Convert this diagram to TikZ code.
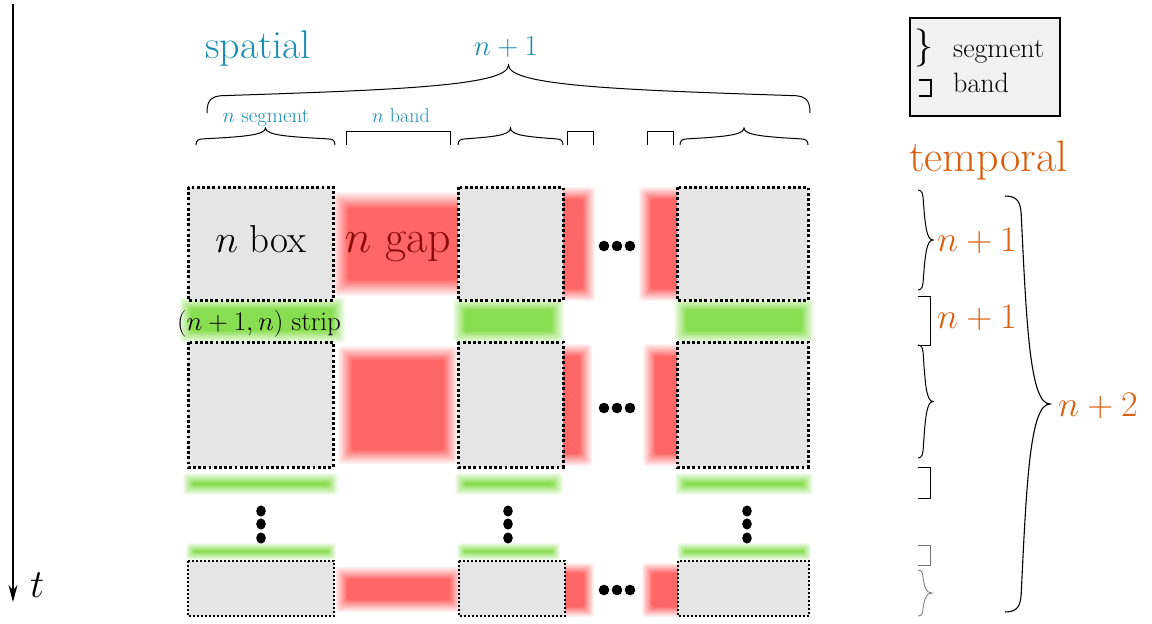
\RequirePackage{fix-cm}
\documentclass[tikz,border=0pt]{standalone}
\usetikzlibrary{arrows.meta}

\definecolor{spatialc}{RGB}{28,143,176}
\definecolor{temporalc}{RGB}{217,95,14}
\definecolor{gapred}{RGB}{255,102,102}
\definecolor{stripgreen}{RGB}{136,222,80}
\definecolor{boxgray}{RGB}{229,229,229}
\definecolor{gaptext}{RGB}{140,10,10}

\newcommand\fsz[1]{\fontsize{#1}{#1}\selectfont}

% soft-edged rectangle: colour, x1, y1, x2, y2, blur half-width
% (12 nested layers whose opacities add up to a linear ramp)
\newcommand\fuzzy[6]{%
  \foreach \k in {1,...,12}{%
    \pgfmathsetmacro\fo{#6*(1-2*(\k-1)/11)}%
    \pgfmathsetmacro\fa{1/(13-\k)}%
    \fill[#1, fill opacity=\fa, rounded corners=3pt]
      ({#2-\fo},{#3-\fo}) rectangle ({#4+\fo},{#5+\fo});
  }}

% horizontal curly brace, tip up: [opts] x1, x2, base y, height, hook length
\newcommand\spanbrace[6][]{%
  \pgfmathsetmacro\bxa{#2}\pgfmathsetmacro\bxb{#3}%
  \pgfmathsetmacro\bxm{(#2+#3)/2}%
  \pgfmathsetmacro\byb{#4}\pgfmathsetmacro\byt{#4-(#5)}%
  \pgfmathsetmacro\byh{#4-0.36*(#5)}% end of the hook
  \pgfmathsetmacro\byc{#4-0.3*(#5)}\pgfmathsetmacro\byk{#4-0.34*(#5)}%
  \pgfmathsetmacro\bym{#4-0.48*(#5)}\pgfmathsetmacro\byd{#4-0.56*(#5)}%
  \pgfmathsetmacro\bpa{#2+(#6)}\pgfmathsetmacro\bpb{#3-(#6)}%
  \pgfmathsetmacro\bqa{#2+0.4*(#6)}\pgfmathsetmacro\bqb{#3-0.4*(#6)}%
  \pgfmathsetmacro\bra{\bpa+0.6*(\bxm-\bpa)}\pgfmathsetmacro\brb{\bpb-0.6*(\bpb-\bxm)}%
  \draw[brc,#1] (\bxa,\byb) .. controls (\bxa,\byc) and (\bqa,\byk) .. (\bpa,\byh)
    .. controls (\bra,\bym) and (\bxm,\byd) .. (\bxm,\byt)
    .. controls (\bxm,\byd) and (\brb,\bym) .. (\bpb,\byh)
    .. controls (\bqb,\byk) and (\bxb,\byc) .. (\bxb,\byb);}

% vertical curly brace, tip right: [opts] x, y1, y2, height, hook length
\newcommand\timebrace[6][]{%
  \pgfmathsetmacro\cxb{#2}\pgfmathsetmacro\cxt{#2+(#5)}%
  \pgfmathsetmacro\cxh{#2+0.36*(#5)}%
  \pgfmathsetmacro\cxc{#2+0.3*(#5)}\pgfmathsetmacro\cxk{#2+0.34*(#5)}%
  \pgfmathsetmacro\cxm{#2+0.48*(#5)}\pgfmathsetmacro\cxd{#2+0.56*(#5)}%
  \pgfmathsetmacro\cya{#3}\pgfmathsetmacro\cyb{#4}\pgfmathsetmacro\cym{(#3+#4)/2}%
  \pgfmathsetmacro\cpa{#3+(#6)}\pgfmathsetmacro\cpb{#4-(#6)}%
  \pgfmathsetmacro\cqa{#3+0.4*(#6)}\pgfmathsetmacro\cqb{#4-0.4*(#6)}%
  \pgfmathsetmacro\cra{\cpa+0.6*(\cym-\cpa)}\pgfmathsetmacro\crb{\cpb-0.6*(\cpb-\cym)}%
  \draw[brc,#1] (\cxb,\cya) .. controls (\cxc,\cya) and (\cxk,\cqa) .. (\cxh,\cpa)
    .. controls (\cxm,\cra) and (\cxd,\cym) .. (\cxt,\cym)
    .. controls (\cxd,\cym) and (\cxm,\crb) .. (\cxh,\cpb)
    .. controls (\cxk,\cqb) and (\cxc,\cyb) .. (\cxb,\cyb);}

\begin{document}
\begin{tikzpicture}[x=1pt,y=-1pt,
  cell/.style={fill=boxgray, draw=black, line width=3pt, dash pattern=on 2.8pt off 2.4pt},
  thincell/.style={fill=boxgray, draw=black, line width=2pt, dash pattern=on 2pt off 2pt},
  brc/.style={draw=black, line width=1pt},
  faint/.style={draw=black!55, line width=0.8pt},
  bracketline/.style={draw=black, line width=1pt},
  spat/.style={text=spatialc},
  temp/.style={text=temporalc},
  bdot/.style={fill=black}]
\useasboundingbox (0,0) rectangle (1152,624);

% ---- time axis
\coordinate (t0) at (13,4);
\coordinate (t1) at (13,602);
\draw[line width=1.2pt, -{Stealth[length=17pt,width=9pt]}] (t0) -- (t1);
\node[font=\fsz{40}, anchor=base west, inner sep=0pt] (tlab) at (30,597) {$t$};

% ---- gaps (red) and strips (green)
\fuzzy{gapred}{340}{200}{470}{288}{8}
\fuzzy{gapred}{545}{193}{589}{295}{6}
\fuzzy{gapred}{645}{193}{690}{295}{6}
\fuzzy{gapred}{345}{353}{451}{457}{7}
\fuzzy{gapred}{545}{350}{586}{460}{6}
\fuzzy{gapred}{649}{350}{690}{460}{6}
\fuzzy{gapred}{341}{573}{456}{606}{6}
\fuzzy{gapred}{545}{568}{589}{612}{5}
\fuzzy{gapred}{647}{568}{690}{612}{5}

\fuzzy{stripgreen}{185}{303}{339}{337}{6}
\fuzzy{stripgreen}{459}{304}{558}{337}{6}
\fuzzy{stripgreen}{680}{304}{808}{337}{6}
\fuzzy{stripgreen}{188}{478}{333}{490}{5}
\fuzzy{stripgreen}{460}{478}{558}{490}{5}
\fuzzy{stripgreen}{680}{478}{808}{490}{5}
\fuzzy{stripgreen}{190}{547}{332}{556}{4}
\fuzzy{stripgreen}{461}{547}{556}{556}{4}
\fuzzy{stripgreen}{681}{547}{807}{556}{4}

% ---- boxes
\foreach \ya/\yb in {187/300, 342/467}{
  \draw[cell] (188,\ya) rectangle (333,\yb);
  \draw[cell] (458,\ya) rectangle (563,\yb);
  \draw[cell] (677,\ya) rectangle (808,\yb);
}
\draw[thincell] (188,561) rectangle (334,616);
\draw[thincell] (459,561) rectangle (565,616);
\draw[thincell] (678,561) rectangle (809,616);

% ---- ellipsis dots
\foreach \yy in {246,408,590}{
  \foreach \xx in {604,617,630}{ \fill[bdot] (\xx,\yy) circle (5.3pt); }
}
\foreach \xx in {261,508,747}{
  \foreach \yy in {511,524,538}{ \fill[bdot] (\xx,\yy) ellipse (4.8pt and 5.6pt); }
}

% ---- cell labels
\node[font=\fsz{39}, anchor=base, inner sep=0pt] (boxlab) at (261,252) {$n$ box};
\node[font=\fsz{46}, anchor=base, inner sep=0pt, text=gaptext] (gaplab) at (398,252) {$n$ gap};
\node[font=\fsz{27}, anchor=base, inner sep=0pt] (striplab) at (259,330) {$(n+1,n)$ strip};

% ---- spatial annotations
\node[font=\fsz{40}, anchor=base west, inner sep=0pt, spat] (spatial) at (205,58) {spatial};
\spanbrace{207}{810}{113}{48}{14}
\node[font=\fsz{29}, anchor=base, inner sep=0pt, spat] (sptotal) at (506,55) {$n+1$};
\spanbrace{196}{335}{145}{17}{7}
\spanbrace{458}{563}{145}{17}{7}
\spanbrace{680}{808}{145}{17}{7}
\draw[bracketline] (346,145) -- (346,131) -- (450,131) -- (450,145);
\draw[bracketline] (567,145) -- (567,131) -- (593,131) -- (593,145);
\draw[bracketline] (647,145) -- (647,131) -- (673,131) -- (673,145);
\node[font=\fsz{21}, anchor=base, inner sep=0pt, spat] (seglab) at (266,122) {$n$ segment};
\node[font=\fsz{20}, anchor=base, inner sep=0pt, spat] (bandlab) at (401,122) {$n$ band};

% ---- legend
\node[draw=black, fill=black!5, line width=1.8pt, minimum width=150pt, minimum height=98pt,
      inner sep=0pt] (legend) at (985,67) {};
\node[font=\fsz{38}, inner sep=0pt] (lgsym) at (924,48) {$\}$};
\node[font=\fsz{28}, anchor=base west, inner sep=0pt] (lgseg) at (953,57) {segment};
\node[font=\fsz{28}, anchor=base west, inner sep=0pt] (lgband) at (953,92) {band};
\draw[line width=1.8pt] (919,80) -- (931,80) -- (931,96) -- (919,96);

% ---- temporal annotations
\node[font=\fsz{44}, anchor=base west, inner sep=0pt, temp] (temporal) at (909,171) {temporal};
\timebrace{918}{190}{290}{15}{12}
\node[font=\fsz{36}, anchor=base west, inner sep=0pt, temp] (tseg) at (937,251) {$n+1$};
\draw[bracketline] (918,296) -- (930,296) -- (930,345) -- (918,345);
\node[font=\fsz{36}, anchor=base west, inner sep=0pt, temp] (tband) at (937,328) {$n+1$};
\timebrace{918}{345}{458}{15}{12}
\draw[bracketline] (918,467) -- (930,467) -- (930,498) -- (918,498);
\draw[faint] (918,545) -- (930,545) -- (930,565) -- (918,565);
\timebrace[faint]{918}{570}{616}{14}{8}
\timebrace[line width=1.1pt]{1005}{196}{612}{45}{18}
\node[font=\fsz{36}, anchor=base west, inner sep=0pt, temp] (ttotal) at (1058,416) {$n+2$};
\end{tikzpicture}
\end{document}
